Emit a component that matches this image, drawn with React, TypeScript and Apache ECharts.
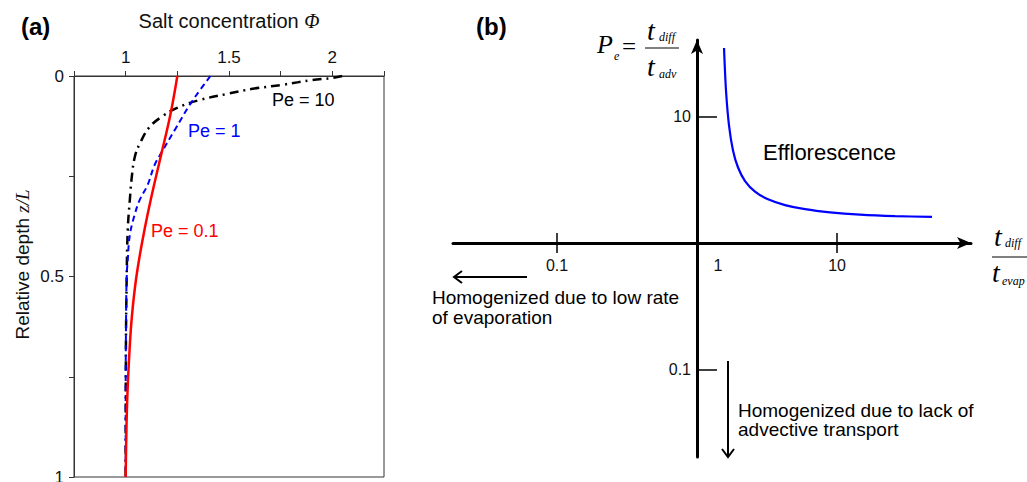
import React, { useEffect, useRef } from 'react';
import * as echarts from 'echarts';

const SANS = "'Liberation Sans', Arial, sans-serif";
const SERIF = "'Liberation Serif', 'Times New Roman', serif";

// Panel (a): salt concentration profiles
const depthPe01 = [0, 0.1, 0.2, 0.3, 0.4, 0.5, 0.6, 0.7, 0.8, 0.9, 1.0];
const phiPe01 = [1.25, 1.215, 1.17, 1.125, 1.085, 1.052, 1.03, 1.017, 1.008, 1.003, 1.0];

const depthPe1 = [0, 0.035, 0.072, 0.135, 0.185, 0.222, 0.272, 0.309, 0.347, 0.397, 0.459, 0.5, 0.6, 0.8, 1];
const phiPe1 = [1.41, 1.36, 1.31, 1.237, 1.18, 1.14, 1.106, 1.068, 1.043, 1.02, 1.01, 1.005, 1.002, 1.0, 1.0];

const depthPe10 = [0, 0.005, 0.01, 0.022, 0.032, 0.045, 0.06, 0.08, 0.1, 0.127, 0.167, 0.2, 0.25, 0.31, 0.384, 0.5, 0.7, 1];
const phiPe10 = [2.048, 2.0, 1.903, 1.758, 1.614, 1.488, 1.357, 1.246, 1.179, 1.116, 1.07, 1.045, 1.03, 1.02, 1.01, 1.005, 1.001, 1.0];

const phiTickLabels = [1, 1.5, 2];
const depthTickLabels = [0, 0.5, 1];

// Panel (b): efflorescence boundary (log-log schematic)
const effloRatio = [1.559, 1.611, 1.693, 1.807, 1.963, 2.203, 2.596, 3.215, 4.253, 5.907, 8.913, 14.6, 25.96, 47.7];
const effloPeclet = [34.8, 16.0, 8.475, 5.395, 3.952, 3.091, 2.549, 2.215, 1.994, 1.85, 1.748, 1.677, 1.632, 1.608];
const ratioTickLabels = [0.1, 1, 10];
const ratioTicks = [0.1, 10];
const pecletTickLabels = [0.1, 10];

const zip = (xs: number[], ys: number[]) => xs.map((x, i) => [x, ys[i]]);

const txt = (x: number, y: number, text: string, font: string, fill = '#000', align = 'left') => ({
  type: 'text',
  x,
  y,
  silent: true,
  style: { text, font, fill, textAlign: align, textVerticalAlign: 'middle' },
});

const seg = (x1: number, y1: number, x2: number, y2: number, w = 2) => ({
  type: 'line',
  silent: true,
  shape: { x1, y1, x2, y2 },
  style: { stroke: '#000', lineWidth: w },
});

const head = (pts: number[][]) => ({
  type: 'polyline',
  silent: true,
  shape: { points: pts },
  style: { stroke: '#000', lineWidth: 2, fill: null },
});

const ratioLabel = (v: number) => (v < 0.5 ? '0.1' : v < 5 ? '{one|1}' : '10');
const pecletLabel = (v: number) => (v < 1 ? '0.1' : '10');

const bAxisCommon = {
  type: 'log',
  logBase: 10,
  gridIndex: 1,
  splitLine: { show: false },
  minorTick: { show: false },
  minorSplitLine: { show: false },
};

const option: any = {
  animation: false,
  backgroundColor: '#fff',
  grid: [
    { left: 74, top: 76, width: 310, height: 401, show: true, borderColor: '#333', borderWidth: 1, outerBoundsMode: 'none' },
    { left: 453, top: 40, width: 518, height: 417, outerBoundsMode: 'none' },
  ],
  xAxis: [
    {
      type: 'value',
      gridIndex: 0,
      position: 'top',
      min: 0.75,
      max: 2.25,
      interval: 0.25,
      axisLine: { show: true, lineStyle: { color: '#333', width: 1 } },
      axisTick: { show: true, inside: false, length: 5, lineStyle: { color: '#333' } },
      axisLabel: {
        formatter: (v: number) => (phiTickLabels.some((t) => Math.abs(t - v) < 1e-9) ? String(v) : ''),
        fontSize: 17,
        fontFamily: SANS,
        color: '#111',
        margin: 10,
      },
      splitLine: { show: false },
      name: '{n|Salt concentration }{i|Φ}',
      nameLocation: 'middle',
      nameGap: 45,
      nameTextStyle: {
        rich: {
          n: { fontSize: 20, fontFamily: SANS, color: '#111' },
          i: { fontSize: 20, fontFamily: SERIF, fontStyle: 'italic', color: '#111' },
        },
      },
    },
    {
      ...bAxisCommon,
      min: Math.pow(10, -1.743),
      max: Math.pow(10, 1.957),
      position: 'bottom',
      offset: -214,
      axisLine: {
        show: true,
        onZero: false,
        symbol: ['none', 'arrow'],
        symbolSize: [9, 14],
        lineStyle: { color: '#000', width: 3 },
      },
      axisTick: { show: true, inside: false, length: 10, customValues: ratioTicks, lineStyle: { color: '#000', width: 1.5 } },
      axisLabel: {
        customValues: ratioTickLabels,
        formatter: ratioLabel,
        fontSize: 16,
        fontFamily: SANS,
        color: '#111',
        margin: 14,
        rich: { one: { fontSize: 16, fontFamily: SANS, color: '#111', padding: [0, 0, 6, 42] } },
      },
    },
    {
      ...bAxisCommon,
      min: Math.pow(10, -1.743),
      max: Math.pow(10, 1.957),
      position: 'bottom',
      offset: -214,
      axisLine: { show: false, onZero: false },
      axisTick: { show: true, inside: true, length: 10, customValues: ratioTicks, lineStyle: { color: '#000', width: 1.5 } },
      axisLabel: { show: false },
    },
  ],
  yAxis: [
    {
      type: 'value',
      gridIndex: 0,
      inverse: true,
      min: 0,
      max: 1,
      interval: 0.25,
      axisLine: { show: true, lineStyle: { color: '#333', width: 1 } },
      axisTick: { show: true, inside: false, length: 5, lineStyle: { color: '#333' } },
      axisLabel: {
        formatter: (v: number) => (depthTickLabels.some((t) => Math.abs(t - v) < 1e-9) ? String(v) : ''),
        fontSize: 17,
        fontFamily: SANS,
        color: '#111',
        margin: 10,
      },
      splitLine: { show: false },
      name: '{n|Relative depth }{i|z/L}',
      nameLocation: 'middle',
      nameRotate: 90,
      nameGap: 42,
      nameTextStyle: {
        rich: {
          n: { fontSize: 19, fontFamily: SANS, color: '#111', padding: [0, 0, 0, 24] },
          i: { fontSize: 19, fontFamily: SERIF, fontStyle: 'italic', color: '#111' },
        },
      },
    },
    {
      ...bAxisCommon,
      min: Math.pow(10, -1.692),
      max: Math.pow(10, 1.605),
      position: 'left',
      offset: -244,
      axisLine: {
        show: true,
        onZero: false,
        symbol: ['none', 'arrow'],
        symbolSize: [9, 14],
        lineStyle: { color: '#000', width: 3 },
      },
      axisTick: { show: true, inside: true, length: 20, customValues: pecletTickLabels, lineStyle: { color: '#000', width: 1.5 } },
      axisLabel: {
        customValues: pecletTickLabels,
        formatter: pecletLabel,
        fontSize: 16,
        fontFamily: SANS,
        color: '#111',
        margin: 6,
      },
    },
  ],
  series: [
    {
      type: 'line',
      xAxisIndex: 0,
      yAxisIndex: 0,
      data: zip(phiPe10, depthPe10),
      smooth: 0.4,
      showSymbol: false,
      lineStyle: { color: '#000', width: 2.5, type: [9, 5, 2, 5] },
    },
    {
      type: 'line',
      xAxisIndex: 0,
      yAxisIndex: 0,
      data: zip(phiPe1, depthPe1),
      smooth: 0.4,
      showSymbol: false,
      lineStyle: { color: '#0000ff', width: 2, type: [6, 4] },
    },
    {
      type: 'line',
      xAxisIndex: 0,
      yAxisIndex: 0,
      data: zip(phiPe01, depthPe01),
      smooth: 0.4,
      showSymbol: false,
      lineStyle: { color: '#ff0000', width: 2.5 },
    },
    {
      type: 'line',
      xAxisIndex: 1,
      yAxisIndex: 1,
      data: zip(effloRatio, effloPeclet),
      smooth: 0.3,
      showSymbol: false,
      lineStyle: { color: '#0000ff', width: 2.2 },
    },
  ],
  graphic: [
    txt(21, 26, '(a)', `bold 24px ${SANS}`),
    txt(476, 26, '(b)', `bold 24px ${SANS}`),
    txt(272, 100, 'Pe = 10', `18px ${SANS}`, '#000'),
    txt(188, 131, 'Pe = 1', `18px ${SANS}`, '#0000ff'),
    txt(151, 231, 'Pe = 0.1', `18px ${SANS}`, '#ff0000'),
    txt(763, 152, 'Efflorescence', `22px ${SANS}`),
    txt(432, 297, 'Homogenized due to low rate', `19px ${SANS}`),
    txt(432, 317, 'of evaporation', `19px ${SANS}`),
    txt(738, 410, 'Homogenized due to lack of', `19px ${SANS}`),
    txt(738, 429, 'advective transport', `19px ${SANS}`),
    // left arrow
    seg(527, 277, 454, 277),
    head([[462, 271], [454, 277], [462, 283]]),
    // down arrow
    seg(728, 361, 728, 457),
    head([[722, 449], [728, 457], [734, 449]]),
    // Pe = t_diff / t_adv
    txt(597, 44, 'P', `italic 26px ${SERIF}`),
    txt(614, 56, 'e', `italic 12px ${SERIF}`),
    txt(622, 46, '=', `25px ${SERIF}`),
    txt(647, 30, 't', `italic 28px ${SERIF}`),
    txt(659, 37, 'diff', `italic 12px ${SERIF}`),
    seg(645, 48, 679, 48, 1),
    txt(647, 66, 't', `italic 28px ${SERIF}`),
    txt(659, 74, 'adv', `italic 12px ${SERIF}`),
    // t_diff / t_evap
    txt(994, 236, 't', `italic 28px ${SERIF}`),
    txt(1005, 243, 'diff', `italic 12px ${SERIF}`),
    seg(992, 257, 1027, 257, 1),
    txt(992, 272, 't', `italic 28px ${SERIF}`),
    txt(1002, 281, 'evap', `italic 12px ${SERIF}`),
  ],
};

export default function App() {
  const ref = useRef<HTMLDivElement>(null);
  useEffect(() => {
    const chart = echarts.init(ref.current!, null, { renderer: 'svg' });
    chart.setOption(option);
    return () => chart.dispose();
  }, []);
  return (
    <div
      ref={ref}
      style={{ position: 'absolute', left: 0, top: 0, width: 1027, height: 482, background: '#fff' }}
    />
  );
}
